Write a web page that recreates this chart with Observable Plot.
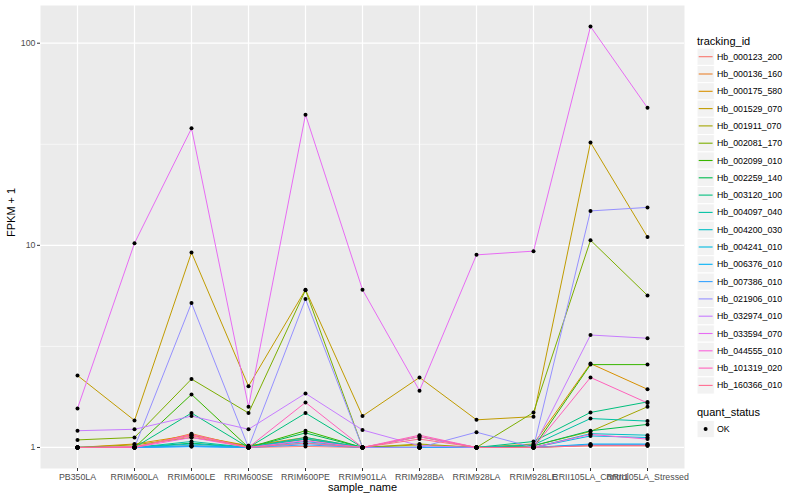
<!DOCTYPE html>
<html><head><meta charset="utf-8">
<script src="https://cdn.jsdelivr.net/npm/d3@7"></script>
<script src="https://cdn.jsdelivr.net/npm/@observablehq/plot@0.6"></script>
<style>
body{margin:0;background:#fff;font-family:"Liberation Sans",Arial,sans-serif;}
#wrap{position:relative;width:800px;height:500px;overflow:hidden;}
#legend{position:absolute;left:690px;top:0;}
</style></head><body><div id="wrap"><div id="chart"></div><svg id="legend" width="110" height="500"></svg></div>
<script>
const samples = ["PB350LA","RRIM600LA","RRIM600LE","RRIM600SE","RRIM600PE","RRIM901LA","RRIM928BA","RRIM928LA","RRIM928LE","RRII105LA_Control","RRII105LA_Stressed"];
const trackingIds = ["Hb_000123_200","Hb_000136_160","Hb_000175_580","Hb_001529_070","Hb_001911_070","Hb_002081_170","Hb_002099_010","Hb_002259_140","Hb_003120_100","Hb_004097_040","Hb_004200_030","Hb_004241_010","Hb_006376_010","Hb_007386_010","Hb_021906_010","Hb_032974_010","Hb_033594_070","Hb_044555_010","Hb_101319_020","Hb_160366_010"];
const trackingColors = ["#F8766D","#EA8331","#D89000","#C09B00","#A3A500","#7CAE00","#39B600","#00BB4E","#00BF7D","#00C1A3","#00BFC4","#00BAE0","#00B0F6","#35A2FF","#9590FF","#C77CFF","#E76BF3","#FA62DB","#FF62BC","#FF6C91"];
// FPKM + 1, one row per tracking_id, columns follow samples
const fpkmPlusOne = [
  [1.00,1.00,1.02,1.00,1.01,1.00,1.00,1.00,1.00,1.03,1.03],
  [1.00,1.00,1.17,1.00,1.10,1.00,1.00,1.00,1.00,1.02,1.02],
  [1.00,1.04,1.15,1.02,1.12,1.00,1.03,1.00,1.04,2.60,1.94],
  [2.27,1.36,9.21,2.01,6.03,1.43,2.22,1.37,1.42,32.3,11.0],
  [1.00,1.03,1.12,1.02,1.10,1.00,1.04,1.00,1.02,1.20,1.59],
  [1.09,1.12,2.18,1.48,6.00,1.00,1.13,1.00,1.49,10.6,5.65],
  [1.00,1.00,1.83,1.00,1.21,1.00,1.00,1.00,1.00,2.57,2.57],
  [1.00,1.00,1.05,1.00,1.18,1.00,1.00,1.00,1.02,1.21,1.30],
  [1.00,1.00,1.48,1.00,1.48,1.00,1.00,1.00,1.07,1.49,1.68],
  [1.00,1.00,1.07,1.00,1.12,1.00,1.00,1.00,1.03,1.39,1.35],
  [1.00,1.00,1.04,1.00,1.10,1.00,1.00,1.00,1.00,1.17,1.15],
  [1.00,1.00,1.02,1.00,1.07,1.00,1.00,1.00,1.00,1.14,1.12],
  [1.00,1.00,1.01,1.00,1.05,1.00,1.00,1.00,1.00,1.04,1.04],
  [1.00,1.00,1.01,1.00,1.03,1.00,1.00,1.00,1.00,1.03,1.03],
  [1.00,1.00,5.18,1.00,5.42,1.00,1.00,1.19,1.00,14.8,15.4],
  [1.21,1.23,1.43,1.23,1.85,1.22,1.02,1.00,1.00,3.60,3.47],
  [1.56,10.25,37.9,1.59,44.3,6.03,1.91,8.97,9.36,120.9,47.9],
  [1.00,1.00,1.12,1.00,1.08,1.00,1.13,1.00,1.00,1.16,1.10],
  [1.00,1.00,1.16,1.00,1.67,1.00,1.15,1.00,1.00,2.22,1.66],
  [1.00,1.01,1.14,1.00,1.05,1.00,1.10,1.00,1.00,1.02,1.02]
];
const yTicks = [1, 10, 100];
const yMinor = [Math.sqrt(10), Math.sqrt(1000)];
const quantStatus = ["OK"];

const data = [];
trackingIds.forEach((id, i) => samples.forEach((s, j) =>
  data.push({tracking_id: id, sample_name: s, fpkm: fpkmPlusOne[i][j], quant_status: "OK"})));

const lo = Math.log10(1), hi = Math.log10(d3.max(data, d => d.fpkm));
const pad = (hi - lo) * 0.05;

const plot = Plot.plot({
  width: 800, height: 500,
  marginLeft: 40, marginRight: 116, marginTop: 5, marginBottom: 32,
  style: {fontFamily: "'Liberation Sans', Arial, sans-serif", background: "transparent"},
  x: {type: "point", domain: samples, padding: 0.6, label: null},
  y: {type: "log", domain: [Math.pow(10, lo - pad), Math.pow(10, hi + pad)], label: null},
  color: {domain: trackingIds, range: trackingColors},
  marks: [
    Plot.frame({fill: "#EBEBEB", stroke: "none"}),
    Plot.ruleY(yMinor, {stroke: "#FFFFFF", strokeWidth: 0.6}),
    Plot.ruleY(yTicks, {stroke: "#FFFFFF", strokeWidth: 1.2}),
    Plot.ruleX(samples, {stroke: "#FFFFFF", strokeWidth: 1.2}),
    Plot.line(data, {x: "sample_name", y: "fpkm", z: "tracking_id", stroke: "tracking_id", strokeWidth: 1}),
    Plot.dot(data, {x: "sample_name", y: "fpkm", r: 2, fill: "black", stroke: "none"}),
    Plot.axisY(yTicks, {tickFormat: d => String(d), tickSize: 3, tickPadding: 2, fontSize: 8.8, fill: "#4D4D4D", stroke: "#333333", label: null}),
    Plot.axisX({tickSize: 3, tickPadding: 2, fontSize: 8.8, fill: "#4D4D4D", stroke: "#333333", label: null}),
    Plot.text(["sample_name"], {frameAnchor: "bottom", dy: 22, fontSize: 11, fill: "black"}),
    Plot.text(["FPKM + 1"], {frameAnchor: "left", dx: -29, rotate: -90, fontSize: 11, fill: "black"})
  ]
});
document.getElementById("chart").appendChild(plot);

// Legend
const lg = d3.select("#legend").style("font-family", "'Liberation Sans', Arial, sans-serif");
lg.append("text").attr("x", 7).attr("y", 44.5).attr("font-size", 11).text("tracking_id");
trackingIds.forEach((id, i) => {
  const cy = 56.7 + 17.3 * i;
  lg.append("rect").attr("x", 7).attr("y", cy - 8.6).attr("width", 17.3).attr("height", 17.3)
    .attr("fill", "#F2F2F2").attr("stroke", "#FFFFFF").attr("stroke-width", 1);
  lg.append("line").attr("x1", 8.7).attr("x2", 22.6).attr("y1", cy).attr("y2", cy)
    .attr("stroke", trackingColors[i]).attr("stroke-width", 1.1);
  lg.append("text").attr("x", 27).attr("y", cy + 3).attr("font-size", 8.8).text(id);
});
lg.append("text").attr("x", 7).attr("y", 416.3).attr("font-size", 11).text("quant_status");
quantStatus.forEach((q, i) => {
  const cy = 429 + 17.3 * i;
  lg.append("rect").attr("x", 7).attr("y", cy - 8.6).attr("width", 17.3).attr("height", 17.3)
    .attr("fill", "#F2F2F2").attr("stroke", "#FFFFFF").attr("stroke-width", 1);
  lg.append("circle").attr("cx", 15.6).attr("cy", cy).attr("r", 2).attr("fill", "black");
  lg.append("text").attr("x", 27).attr("y", cy + 3).attr("font-size", 8.8).text(q);
});
</script></body></html>
